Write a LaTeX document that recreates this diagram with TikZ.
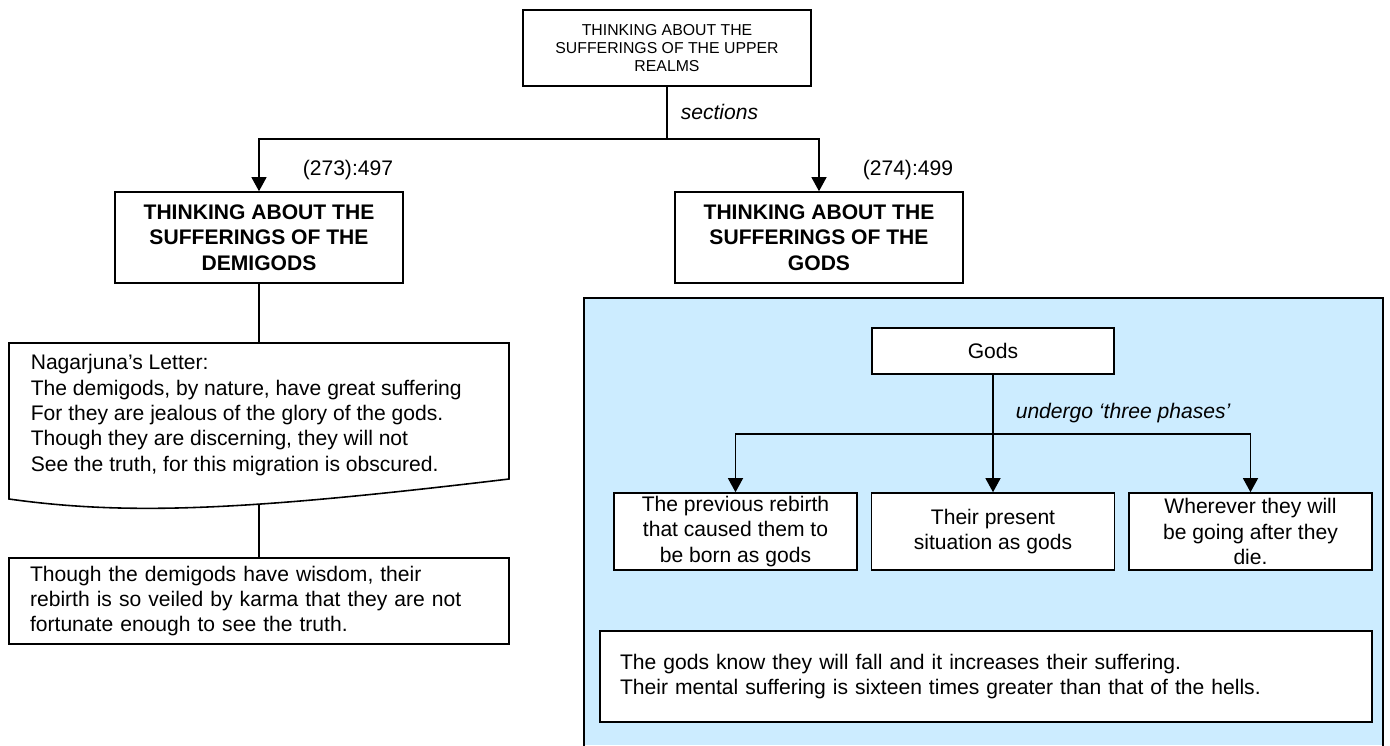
\documentclass[tikz,border=0pt]{standalone}
\usepackage{fontspec}
\setmainfont{Liberation Sans}
\usetikzlibrary{arrows.meta}
\definecolor{panelblue}{RGB}{204,236,255}
\begin{document}
\begin{tikzpicture}[x=0.02cm,y=-0.02cm,line width=0.9pt,
  box/.style={draw,fill=white,align=center,inner sep=0pt,font=\fontsize{12}{14.4}\selectfont},
  arr/.style={-{Triangle[width=8.5pt,length=8pt]}},
  lbl/.style={anchor=west,inner sep=0pt,font=\fontsize{12}{14.4}\selectfont}]
\useasboundingbox (0,0) rectangle (1390,745);
% upper part
\node[box,minimum width=5.76cm,minimum height=1.52cm,font=\fontsize{9}{10.3}\selectfont] (top) at (667,48)
  {THINKING ABOUT THE\\SUFFERINGS OF THE UPPER\\REALMS};
\coordinate (split) at (667,139);
\node[box,minimum width=5.76cm,minimum height=1.82cm,font=\fontsize{12}{14.4}\selectfont\bfseries] (demi) at (259,237.5)
  {THINKING ABOUT THE\\SUFFERINGS OF THE\\DEMIGODS};
\node[box,minimum width=5.76cm,minimum height=1.82cm,font=\fontsize{12}{14.4}\selectfont\bfseries] (gods) at (819,237.5)
  {THINKING ABOUT THE\\SUFFERINGS OF THE\\GODS};
\draw (top) -- (split);
\draw[arr] (split) -| (demi);
\draw[arr] (split) -| (gods);
\node[lbl,font=\fontsize{12}{14.4}\selectfont\itshape] at (680,112) {sections};
\node[lbl] at (302,170) {(273):497};
\node[lbl] at (862,170) {(274):499};
% demigods column
\draw (9,343) -- (509,343) -- (509,479) .. controls (250,510) and (130,516) .. (9,499) -- cycle;
\coordinate (lettertop) at (259,343);
\coordinate (letterfoot) at (259,504);
\node[lbl,align=left] (letter) at (30,415)
  {Nagarjuna’s Letter:\\The demigods, by nature, have great suffering\\For they are jealous of the glory of the gods.\\Though they are discerning, they will not\\See the truth, for this migration is obscured.};
\node[box,align=left,minimum width=10cm,minimum height=1.72cm,text width=9.16cm] (wisdom) at (259,601)
  {Though the demigods have wisdom, their\\rebirth is so veiled by karma that they are not\\fortunate enough to see the truth.};
\draw (demi) -- (lettertop);
\draw (letterfoot) -- (wisdom);
% gods panel
\fill[panelblue] (584,298) rectangle (1383,745);
\draw (584,750) |- (1383,298) -- (1383,750);
\node[box,minimum width=4.84cm,minimum height=0.92cm] (godsbox) at (993,351) {Gods};
\coordinate (fork) at (993,434);
\node[box,minimum width=4.86cm,minimum height=1.54cm] (prev) at (735.5,531.5)
  {The previous rebirth\\that caused them to\\be born as gods};
\node[box,minimum width=4.86cm,minimum height=1.54cm] (present) at (993,531.5)
  {Their present\\situation as gods};
\node[box,minimum width=4.86cm,minimum height=1.54cm] (after) at (1250.5,531.5)
  {Wherever they will\\be going after they\\die.};
\draw[arr] (godsbox) -- (present);
\draw[arr] (fork) -| (prev);
\draw[arr] (fork) -| (after);
\node[lbl,font=\fontsize{12}{14.4}\selectfont\itshape] at (1015,413) {undergo ‘three phases’};
\node[box,align=left,minimum width=15.44cm,minimum height=1.82cm,text width=14.64cm] (note) at (986,676.5)
  {The gods know they will fall and it increases their suffering.\\Their mental suffering is sixteen times greater than that of the hells.};
\end{tikzpicture}
\end{document}
